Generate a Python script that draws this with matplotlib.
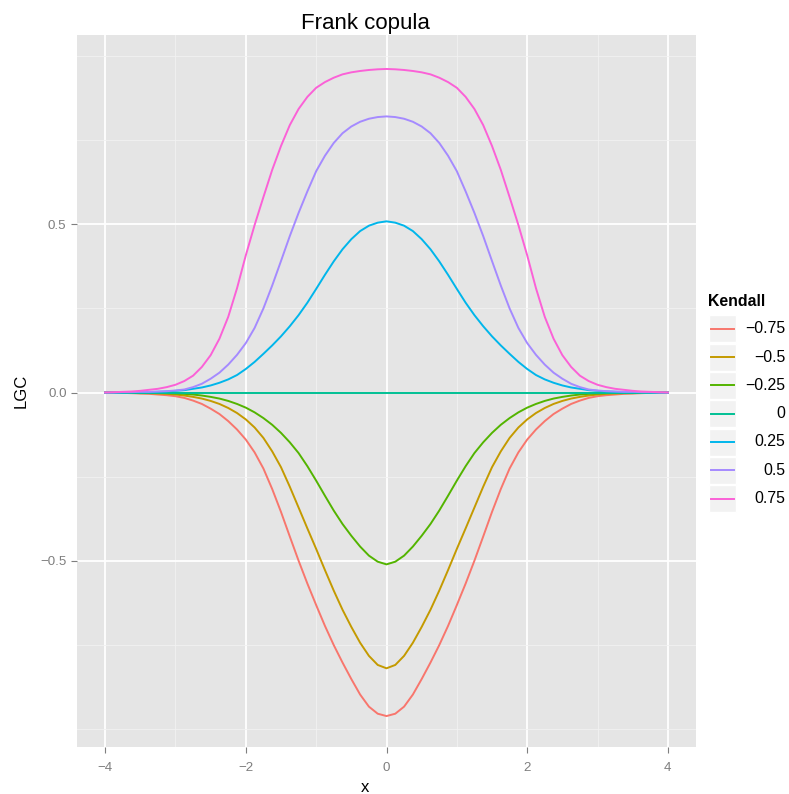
import numpy as np
import matplotlib
matplotlib.use('Agg')
import matplotlib.pyplot as plt
from matplotlib.patches import Rectangle

plt.rcParams['font.family'] = ['Liberation Sans', 'DejaVu Sans']

''' data read off the reference, x sampled every 0.125 '''
x = np.linspace(-4, 4, 65)

kendall = ['\u22120.75', '\u22120.5', '\u22120.25', '0', '0.25', '0.5', '0.75']
colors = ['#F8766D', '#C49A00', '#53B400', '#00C094', '#00B6EB', '#A58AFF', '#FB61D7']

lgc_m075 = [0.000, 0.000, -0.001, -0.002, -0.003, -0.004, -0.006, -0.008, -0.011, -0.016,
            -0.024, -0.034, -0.048, -0.064, -0.085, -0.110, -0.140, -0.178, -0.226, -0.287,
            -0.355, -0.428, -0.500, -0.568, -0.632, -0.694, -0.751, -0.803, -0.852, -0.898,
            -0.934, -0.955, -0.962,
            -0.955, -0.934,
            -0.898, -0.852, -0.803, -0.751, -0.694, -0.632, -0.568, -0.500, -0.428, -0.355,
            -0.287, -0.226, -0.178, -0.140, -0.110, -0.085, -0.064, -0.048, -0.034, -0.024,
            -0.016, -0.011, -0.008, -0.006, -0.004, -0.003, -0.002, -0.001, 0.000, 0.000]
lgc_m050 = [0.000, 0.000, -0.001, -0.001, -0.002, -0.002, -0.003, -0.004, -0.006, -0.009,
            -0.013, -0.018, -0.025, -0.034, -0.046, -0.061, -0.080, -0.104, -0.135, -0.175,
            -0.222, -0.280, -0.342, -0.404, -0.465, -0.528, -0.589, -0.646, -0.697, -0.744,
            -0.783, -0.810, -0.820,
            -0.810, -0.783,
            -0.744, -0.697, -0.646, -0.589, -0.528, -0.465, -0.404, -0.342, -0.280, -0.222,
            -0.175, -0.135, -0.104, -0.080, -0.061, -0.046, -0.034, -0.025, -0.018, -0.013,
            -0.009, -0.006, -0.004, -0.003, -0.002, -0.002, -0.001, -0.001, 0.000, 0.000]
lgc_m025 = [0.000, 0.000, 0.000, 0.000, -0.001, -0.001, -0.001, -0.002, -0.003, -0.004,
            -0.006, -0.009, -0.013, -0.018, -0.025, -0.034, -0.045, -0.059, -0.076, -0.096,
            -0.120, -0.148, -0.180, -0.219, -0.262, -0.307, -0.351, -0.391, -0.426, -0.458,
            -0.485, -0.503, -0.511,
            -0.503, -0.485,
            -0.458, -0.426, -0.391, -0.351, -0.307, -0.262, -0.219, -0.180, -0.148, -0.120,
            -0.096, -0.076, -0.059, -0.045, -0.034, -0.025, -0.018, -0.013, -0.009, -0.006,
            -0.004, -0.003, -0.002, -0.001, -0.001, -0.001, 0.000, 0.000, 0.000, 0.000]
lgc_000 = [0.0] * 65
lgc_025 = [0.000, 0.000, 0.000, 0.001, 0.001, 0.001, 0.002, 0.003, 0.005, 0.007,
           0.011, 0.015, 0.021, 0.029, 0.039, 0.052, 0.070, 0.091, 0.115, 0.140,
           0.167, 0.197, 0.230, 0.267, 0.308, 0.350, 0.390, 0.426, 0.456, 0.480,
           0.496, 0.505, 0.509,
           0.505, 0.496,
           0.480, 0.456, 0.426, 0.390, 0.350, 0.308, 0.267, 0.230, 0.197, 0.167,
           0.140, 0.115, 0.091, 0.070, 0.052, 0.039, 0.029, 0.021, 0.015, 0.011,
           0.007, 0.005, 0.003, 0.002, 0.001, 0.001, 0.001, 0.000, 0.000, 0.000]
lgc_050 = [0.000, 0.000, 0.001, 0.001, 0.002, 0.002, 0.003, 0.004, 0.006, 0.009,
           0.016, 0.026, 0.041, 0.059, 0.083, 0.112, 0.147, 0.192, 0.250, 0.318,
           0.391, 0.465, 0.534, 0.598, 0.658, 0.704, 0.742, 0.771, 0.791, 0.805,
           0.814, 0.819, 0.821,
           0.819, 0.814,
           0.805, 0.791, 0.771, 0.742, 0.704, 0.658, 0.598, 0.534, 0.465, 0.391,
           0.318, 0.250, 0.192, 0.147, 0.112, 0.083, 0.059, 0.041, 0.026, 0.016,
           0.009, 0.006, 0.004, 0.003, 0.002, 0.002, 0.001, 0.001, 0.000, 0.000]
lgc_075 = [0.000, 0.001, 0.002, 0.003, 0.005, 0.008, 0.011, 0.016, 0.023, 0.034,
           0.050, 0.076, 0.111, 0.160, 0.225, 0.310, 0.408, 0.498, 0.581, 0.662,
           0.733, 0.795, 0.843, 0.879, 0.906, 0.923, 0.936, 0.946, 0.952, 0.956,
           0.959, 0.961, 0.962,
           0.961, 0.959,
           0.956, 0.952, 0.946, 0.936, 0.923, 0.906, 0.879, 0.843, 0.795, 0.733,
           0.662, 0.581, 0.498, 0.408, 0.310, 0.225, 0.160, 0.111, 0.076, 0.050,
           0.034, 0.023, 0.016, 0.011, 0.008, 0.005, 0.003, 0.002, 0.001, 0.000]

series = [lgc_m075, lgc_m050, lgc_m025, lgc_000, lgc_025, lgc_050, lgc_075]

''' figure and panel '''
W, H = 789, 794
fig = plt.figure(figsize=(W / 100, H / 100), dpi=100)
ax = fig.add_axes([77 / W, 1 - 747 / H, 619 / W, 712 / H])
ax.set_facecolor('#E5E5E5')

for vals, col in zip(series, colors):
    ax.plot(x, vals, color=col, lw=1.4, zorder=3)

ax.set_xlim(-4.4, 4.4)
ax.set_ylim(-1.054, 1.063)
ax.set_xticks([-4, -2, 0, 2, 4])
ax.set_xticklabels(['\u22124', '\u22122', '0', '2', '4'])
ax.set_xticks([-3, -1, 1, 3], minor=True)
ax.set_yticks([-0.5, 0.0, 0.5])
ax.set_yticklabels(['\u22120.5', '0.0', '0.5'])
ax.set_yticks([-1.0, -0.75, -0.25, 0.25, 0.75, 1.0], minor=True)

ax.grid(which='major', color='white', lw=1.3, zorder=1)
ax.grid(which='minor', color='#F2F2F2', lw=0.6, zorder=0.5)
ax.set_axisbelow(True)
for s in ax.spines.values():
    s.set_visible(False)
ax.tick_params(which='major', length=4, width=0.8, color='#7F7F7F', labelcolor='#7F7F7F',
               labelsize=9.6)
ax.tick_params(axis='x', which='major', pad=7)
ax.tick_params(axis='y', which='major', pad=3.5)
ax.tick_params(which='minor', length=0)

# title and x label sit a bit left of the panel centre, like the original
ax.set_title('Frank copula', fontsize=16, pad=4, x=(365 - 77) / 619)
ax.set_xlabel('x', fontsize=12)
ax.xaxis.set_label_coords((365 - 77) / 619, -0.046)
ax.set_ylabel('LGC', fontsize=12, labelpad=8)

''' legend drawn by hand (right aligned labels like ggplot) '''
lax = fig.add_axes([0, 0, 1, 1], facecolor='none')
lax.set_xlim(0, W)
lax.set_ylim(H, 0)
lax.axis('off')
lax.text(708, 302, 'Kendall', fontsize=11.4, fontweight='bold', ha='left', va='center')
for i, (lab, col) in enumerate(zip(kendall, colors)):
    yc = 328.8 + 28.3 * i
    lax.add_patch(Rectangle((709.3, yc - 13.5), 27, 27, facecolor='#F2F2F2', edgecolor='white', lw=1))
    lax.plot([711.5, 734.5], [yc, yc], color=col, lw=1.4)
    lax.text(785, yc, lab, fontsize=11.4, ha='right', va='center')

fig.savefig('out.png', dpi=100)
